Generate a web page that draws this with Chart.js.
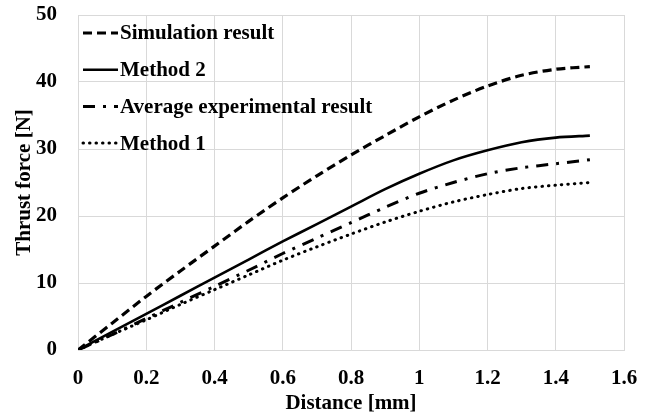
<!DOCTYPE html>
<html>
<head>
<meta charset="utf-8">
<script src="https://cdn.jsdelivr.net/npm/chart.js@4/dist/chart.umd.min.js"></script>
<style>
  html, body { margin: 0; padding: 0; background: #fff; }
  #wrap { width: 652px; height: 416px; }
</style>
</head>
<body>
<div id="wrap"><canvas id="thrust-chart"></canvas></div>
<script>
/* Thrust force vs. distance — four curves, legend inside plot */

const distance   = [0, 0.1, 0.2, 0.3, 0.4, 0.5, 0.6, 0.7, 0.8, 0.9, 1.0, 1.1, 1.2, 1.3, 1.4, 1.5];
const simulation = [0, 4.0, 8.0, 11.8, 15.5, 19.2, 22.7, 26.0, 29.1, 32.0, 34.8, 37.3, 39.4, 41.0, 41.9, 42.3];
const method2    = [0, 2.7, 5.4, 8.1, 10.8, 13.5, 16.2, 18.8, 21.4, 24.0, 26.3, 28.3, 29.8, 31.0, 31.7, 32.0];
const avgExp     = [0, 2.3, 4.7, 7.1, 9.5, 11.9, 14.4, 16.7, 19.0, 21.3, 23.4, 25.0, 26.3, 27.2, 27.8, 28.4];
const method1    = [0, 2.3, 4.5, 6.8, 9.0, 11.2, 13.4, 15.4, 17.3, 19.1, 20.7, 22.1, 23.2, 24.1, 24.6, 25.0];

const seriesNames = ['Simulation result', 'Method 2', 'Average experimental result', 'Method 1'];

const FONT = '"Liberation Serif", "Times New Roman", serif';
const pts = ys => ys.map((y, i) => ({ x: distance[i], y }));

// legend drawn inside the plot area, top-left
const innerLegend = {
  id: 'innerLegend',
  afterDraw(chart) {
    const { ctx, chartArea } = chart;
    ctx.save();
    ctx.font = 'bold 21px ' + FONT;
    ctx.textBaseline = 'middle';
    chart.data.datasets.forEach((ds, i) => {
      const y = chartArea.top + 18 + i * 36.7;
      const x0 = chartArea.left + 5;
      ctx.beginPath();
      ctx.strokeStyle = ds.borderColor;
      ctx.lineWidth = ds.borderWidth;
      ctx.lineCap = ds.borderCapStyle || 'butt';
      ctx.setLineDash(ds.borderDash || []);
      ctx.moveTo(x0, y);
      ctx.lineTo(x0 + 35, y);
      ctx.stroke();
      ctx.setLineDash([]);
      ctx.fillStyle = '#000';
      ctx.fillText(ds.label, x0 + 37, y + 1);
    });
    ctx.restore();
  }
};

const ctx = document.getElementById('thrust-chart').getContext('2d');
new Chart(ctx, {
  type: 'line',
  data: {
    datasets: [
      { label: seriesNames[0], data: pts(simulation), borderColor: '#000', borderWidth: 3.2, borderDash: [9, 5] },
      { label: seriesNames[1], data: pts(method2),    borderColor: '#000', borderWidth: 2.6 },
      { label: seriesNames[2], data: pts(avgExp),     borderColor: '#000', borderWidth: 3, borderDash: [12, 8, 3, 8] },
      { label: seriesNames[3], data: pts(method1),    borderColor: '#000', borderWidth: 3, borderDash: [0.5, 6], borderCapStyle: 'round' },
    ],
  },
  options: {
    responsive: true,
    maintainAspectRatio: false,
    animation: false,
    events: [],
    layout: { padding: { top: 15, right: 28, left: 0, bottom: 0 } },
    elements: { point: { radius: 0 }, line: { tension: 0.3, fill: false } },
    plugins: { legend: { display: false }, tooltip: { enabled: false } },
    scales: {
      x: {
        type: 'linear',
        min: 0, max: 1.6,
        grid: { color: '#d9d9d9', drawTicks: false },
        border: { color: '#d9d9d9' },
        ticks: {
          stepSize: 0.2,
          padding: 16,
          color: '#000',
          font: { family: FONT, size: 21, weight: 'bold' },
          callback: v => Math.round(v * 10) / 10,
        },
        title: {
          display: true,
          text: 'Distance [mm]',
          color: '#000',
          font: { family: FONT, size: 21, weight: 'bold' },
          padding: { top: 0, bottom: 0 },
        },
        afterFit: s => { s.height = 66; s.paddingLeft = 0; s.paddingRight = 0; },
      },
      y: {
        min: 0, max: 50,
        grid: { color: '#d9d9d9', drawTicks: false },
        border: { color: '#d9d9d9' },
        ticks: {
          stepSize: 10,
          padding: 21,
          color: '#000',
          font: { family: FONT, size: 21, weight: 'bold' },
        },
        title: {
          display: true,
          text: 'Thrust force [N]',
          color: '#000',
          font: { family: FONT, size: 21, weight: 'bold' },
          padding: { top: 12, bottom: 0 },
        },
        afterFit: s => { s.width = 78; s.paddingTop = 0; s.paddingBottom = 0; },
      },
    },
  },
  plugins: [innerLegend],
});
</script>
</body>
</html>
